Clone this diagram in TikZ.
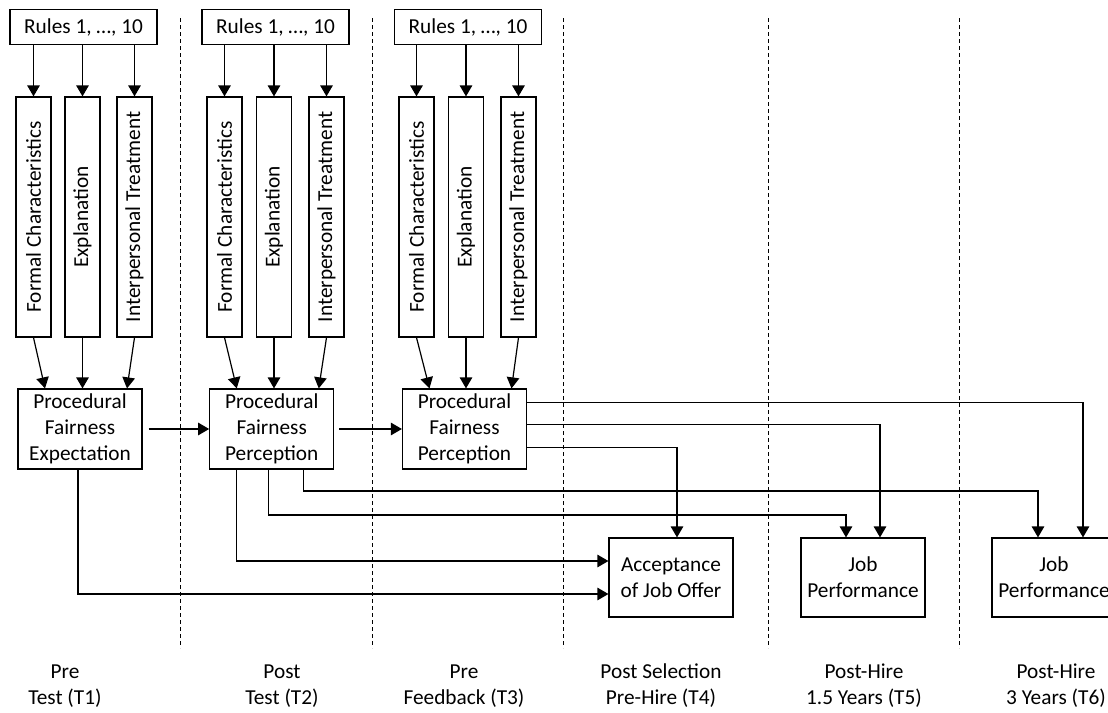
\documentclass[tikz,border=0pt]{standalone}
\usepackage{fontspec}
\setmainfont{Carlito}
\usetikzlibrary{arrows.meta,calc}
\begin{document}
\begin{tikzpicture}[x=1pt,y=-1pt,
  txt/.style={font=\fontsize{21.3}{26}\selectfont},
  box/.style={txt,draw,line width=1.2pt,inner sep=0pt,align=center},
  rulebox/.style={box,minimum width=147,minimum height=35},
  vbox/.style={box,minimum width=35,minimum height=240},
  pbox/.style={box,minimum width=124,minimum height=80},
  obox/.style={box,minimum width=124,minimum height=79},
  arr/.style={line width=1.2pt,-{Triangle[length=11pt,width=12.5pt]}},
  sep/.style={line width=0.9pt,dash pattern=on 4pt off 3pt},
  lbl/.style={txt,align=center,inner sep=0pt}
]
\useasboundingbox (0,0) rectangle (1108,712);

% period separators
\foreach \sx in {180,372,563,768,959}
  \draw[sep] (\sx,18) -- (\sx,648);

% three measurement columns
\foreach \c/\rx/\fx/\ex/\ix/\px/\pt in {1/83.5/33.5/82.5/134.5/80/Expectation,
                                    2/275.5/224.5/274/326.5/271.75/Perception,
                                    3/468/416.5/466/518.5/464.5/Perception}{
  \node[rulebox] (r\c) at (\rx,27) {Rules 1, …, 10};
  \node[vbox] (f\c) at (\fx,217) {\rotatebox{90}{Formal Characteristics}};
  \node[vbox] (e\c) at (\ex,217) {\rotatebox{90}{Explanation}};
  \node[vbox] (i\c) at (\ix,217) {\rotatebox{90}{Interpersonal Treatment}};
  \node[pbox] (p\c) at (\px,429) {Procedural\\Fairness\\\pt};
  \draw[arr] (r\c.south -| f\c.north) -- (f\c.north);
  \draw[arr] (r\c.south -| e\c.north) -- (e\c.north);
  \draw[arr] (r\c.south -| i\c.north) -- (i\c.north);
  \draw[arr] (f\c.south) -- ($(p\c.north)+(-35,0)$);
  \draw[arr] (e\c.south) -- (e\c.south |- p\c.north);
  \draw[arr] (i\c.south) -- ($(p\c.north)+(47,0)$);
}

% outcome boxes
\node[obox] (acc) at (671,577.5) {Acceptance\\of Job Offer};
\node[obox] (j1) at (863,577.5) {Job\\Performance};
\node[obox] (j2) at (1054,577.5) {Job\\Performance};

% chain between procedural fairness boxes
\draw[arr,shorten <=6pt] (p1.east) -- (p2.west);
\draw[arr,shorten <=5pt] (p2.east) -- (p3.west);

% links to outcomes
\draw[arr] ($(p3.east)+(0,-26.5)$) -| ($(j2.north)+(29,0)$);
\draw[arr] ($(p3.east)+(0,-4.5)$) -| ($(j1.north)+(17,0)$);
\draw[arr] ($(p3.east)+(0,18.5)$) -| ($(acc.north)+(6,0)$);
\draw[arr] ($(p2.south)+(32,0)$) |- (970,491) -| ($(j2.north)+(-16,0)$);
\draw[arr] ($(p2.south)+(-3,0)$) |- (780,515) -| ($(j1.north)+(-17,0)$);
\draw[arr] ($(p2.south)+(-35,0)$) |- ($(acc.west)+(0,-16.5)$);
\draw[arr] ($(p1.south)+(-2,0)$) |- ($(acc.west)+(0,16.5)$);

% period labels
\node[lbl] (t1) at (65,686) {Pre\\Test (T1)};
\node[lbl] (t2) at (282,686) {Post\\Test (T2)};
\node[lbl] (t3) at (464,686) {Pre\\Feedback (T3)};
\node[lbl] (t4) at (661,686) {Post Selection\\Pre-Hire (T4)};
\node[lbl] (t5) at (864,686) {Post-Hire\\1.5 Years (T5)};
\node[lbl] (t6) at (1056,686) {Post-Hire\\3 Years (T6)};
\end{tikzpicture}
\end{document}
